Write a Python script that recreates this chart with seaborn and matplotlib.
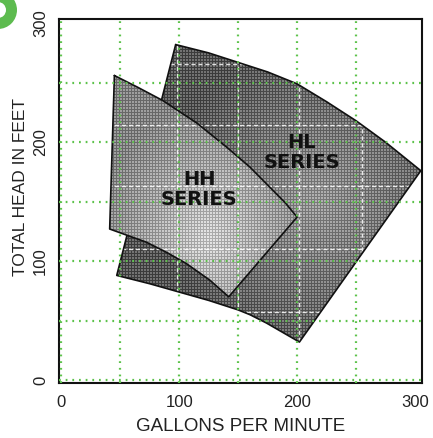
import numpy as np
import pandas as pd
import matplotlib
matplotlib.use("Agg")
import matplotlib.pyplot as plt
import seaborn as sns
from matplotlib.patches import Polygon, Wedge
from matplotlib.transforms import IdentityTransform

# ---- data (gallons per minute, total head in feet) ----
hl_gpm = [97, 125, 150, 175, 200, 225, 250, 275, 305,
          257, 202,
          188, 174, 160, 150, 125, 100, 75, 47]
hl_head = [282, 275, 267, 259, 249, 234, 218, 200, 176,
           109, 32,
           40, 48, 55, 59, 67, 74, 81, 88]

hh_gpm = [45, 65, 86, 115, 140, 160, 177, 190, 200,
          142,
          126, 106, 90, 72, 55, 41]
hh_head = [256, 246, 235, 216, 196, 179, 162, 149, 137,
           70,
           84, 98, 107, 116, 122, 127]

series_names = ["HL", "HH"]
label_text = {"HL": "HL\nSERIES", "HH": "HH\nSERIES"}
label_pos = {"HL": (204, 191), "HH": (117, 160)}

x_ticks = [0, 100, 200, 300]
y_ticks = [0, 100, 200, 300]
grid_vals = [0, 50, 100, 150, 200, 250]

# ---- styling ----
sns.set_style("white")
plt.rcParams["font.family"] = ["Liberation Sans", "DejaVu Sans"]

W, H = 433, 438
fig = plt.figure(figsize=(W / 100, H / 100), dpi=100)
ax = fig.add_axes([59 / W, 1 - 382.5 / H, (422 - 59) / W, (382.5 - 19) / H])
XMIN, XMAX, YMIN, YMAX = -2, 306, -2, 303.5

# outlines through seaborn
rows = []
for name, gx, gy in [("HL", hl_gpm, hl_head), ("HH", hh_gpm, hh_head)]:
    xs = list(gx) + [gx[0]]
    ys = list(gy) + [gy[0]]
    for i, (a, b) in enumerate(zip(xs, ys)):
        rows.append({"series": name, "gpm": a, "head": b, "order": i})
df = pd.DataFrame(rows)

# gradient halftone fills
nx, ny = 363, 364
gx_ = np.linspace(XMIN, XMAX, nx)
gy_ = np.linspace(YMIN, YMAX, ny)
XX, YY = np.meshgrid(gx_, gy_)
ii, jj = np.meshgrid(np.arange(nx), np.arange(ny))
mesh = (((ii % 3) == 0) | ((jj % 3) == 0)).astype(float)
mesh = mesh - mesh.mean()

shade = {
    "HL": dict(c=(215, 150), r=(130, 130), inner=0.58, outer=0.33, z=2),
    "HH": dict(c=(125, 120), r=(95, 115), inner=0.78, outer=0.50, z=4),
}
white_x = [98, 150, 202, 255]
white_y = [57, 110, 163, 214, 266]

for name in series_names:
    sub = df[df.series == name]
    pts = np.column_stack([sub.gpm.values, sub["head"].values])
    s = shade[name]
    patch = Polygon(pts, closed=True, facecolor="none", edgecolor="none", zorder=s["z"])
    ax.add_patch(patch)
    d = np.sqrt(((XX - s["c"][0]) / s["r"][0]) ** 2 + ((YY - s["c"][1]) / s["r"][1]) ** 2)
    val = s["inner"] + (s["outer"] - s["inner"]) * np.clip(d, 0, 1)
    val = np.clip(val - 0.22 * mesh, 0, 1)
    im = ax.imshow(val, cmap="gray", vmin=0, vmax=1, extent=[XMIN, XMAX, YMIN, YMAX],
                   origin="lower", aspect="auto", interpolation="nearest", zorder=s["z"])
    im.set_clip_path(patch)
    for wx in white_x:
        ln = ax.axvline(wx, color="white", lw=1.0, ls=(0, (3, 2)), alpha=0.85, zorder=s["z"] + 0.2)
        ln.set_clip_path(patch)
    for wy in white_y:
        ln = ax.axhline(wy, color="white", lw=1.0, ls=(0, (3, 2)), alpha=0.85, zorder=s["z"] + 0.2)
        ln.set_clip_path(patch)
    sns.lineplot(data=sub, x="gpm", y="head", sort=False, estimator=None, color="#111111",
                 lw=1.2, ax=ax, zorder=s["z"] + 0.5, legend=False)
    tx, ty = label_pos[name]
    ax.text(tx, ty, label_text[name], ha="center", va="center", fontsize=14,
            fontweight="bold", family="DejaVu Sans", color="#111111",
            linespacing=1.05, zorder=10)

# green dotted grid
for g in grid_vals:
    ax.axvline(g, color="#5cc24a", lw=1.6, ls=(0, (0.8, 2.2)), zorder=8)
    ax.axhline(g, color="#5cc24a", lw=1.6, ls=(0, (0.8, 2.2)), zorder=8)

ax.set_xlim(XMIN, XMAX)
ax.set_ylim(YMIN, YMAX)
ax.set_xticks(x_ticks)
ax.set_yticks(y_ticks)
ax.set_xticklabels([str(t) for t in x_ticks], fontsize=12, color="#222222")
ax.set_yticklabels([str(t) for t in y_ticks], fontsize=12, color="#222222",
                   rotation=90, va="center")
ax.tick_params(axis="both", length=0)
ax.tick_params(axis="x", pad=9)
ax.tick_params(axis="y", pad=8)
ax.set_xlabel("GALLONS PER MINUTE", fontsize=13.5, color="#222222", labelpad=6)
ax.set_ylabel("TOTAL HEAD IN FEET", fontsize=12.5, color="#222222")
ax.yaxis.set_label_coords(-(59 - 28) / 363, (382.5 - 186.5) / 363.5)
for sp in ax.spines.values():
    sp.set_visible(True)
    sp.set_color("#111111")
    sp.set_linewidth(1.5)

# green logo fragment in the top-left corner
logo = Wedge((-2, H - 10), 19, -90, 90, width=11, transform=IdentityTransform(),
             facecolor="#5dbb4f", edgecolor="none")
fig.patches.append(logo)

fig.savefig("out.png", dpi=100)
